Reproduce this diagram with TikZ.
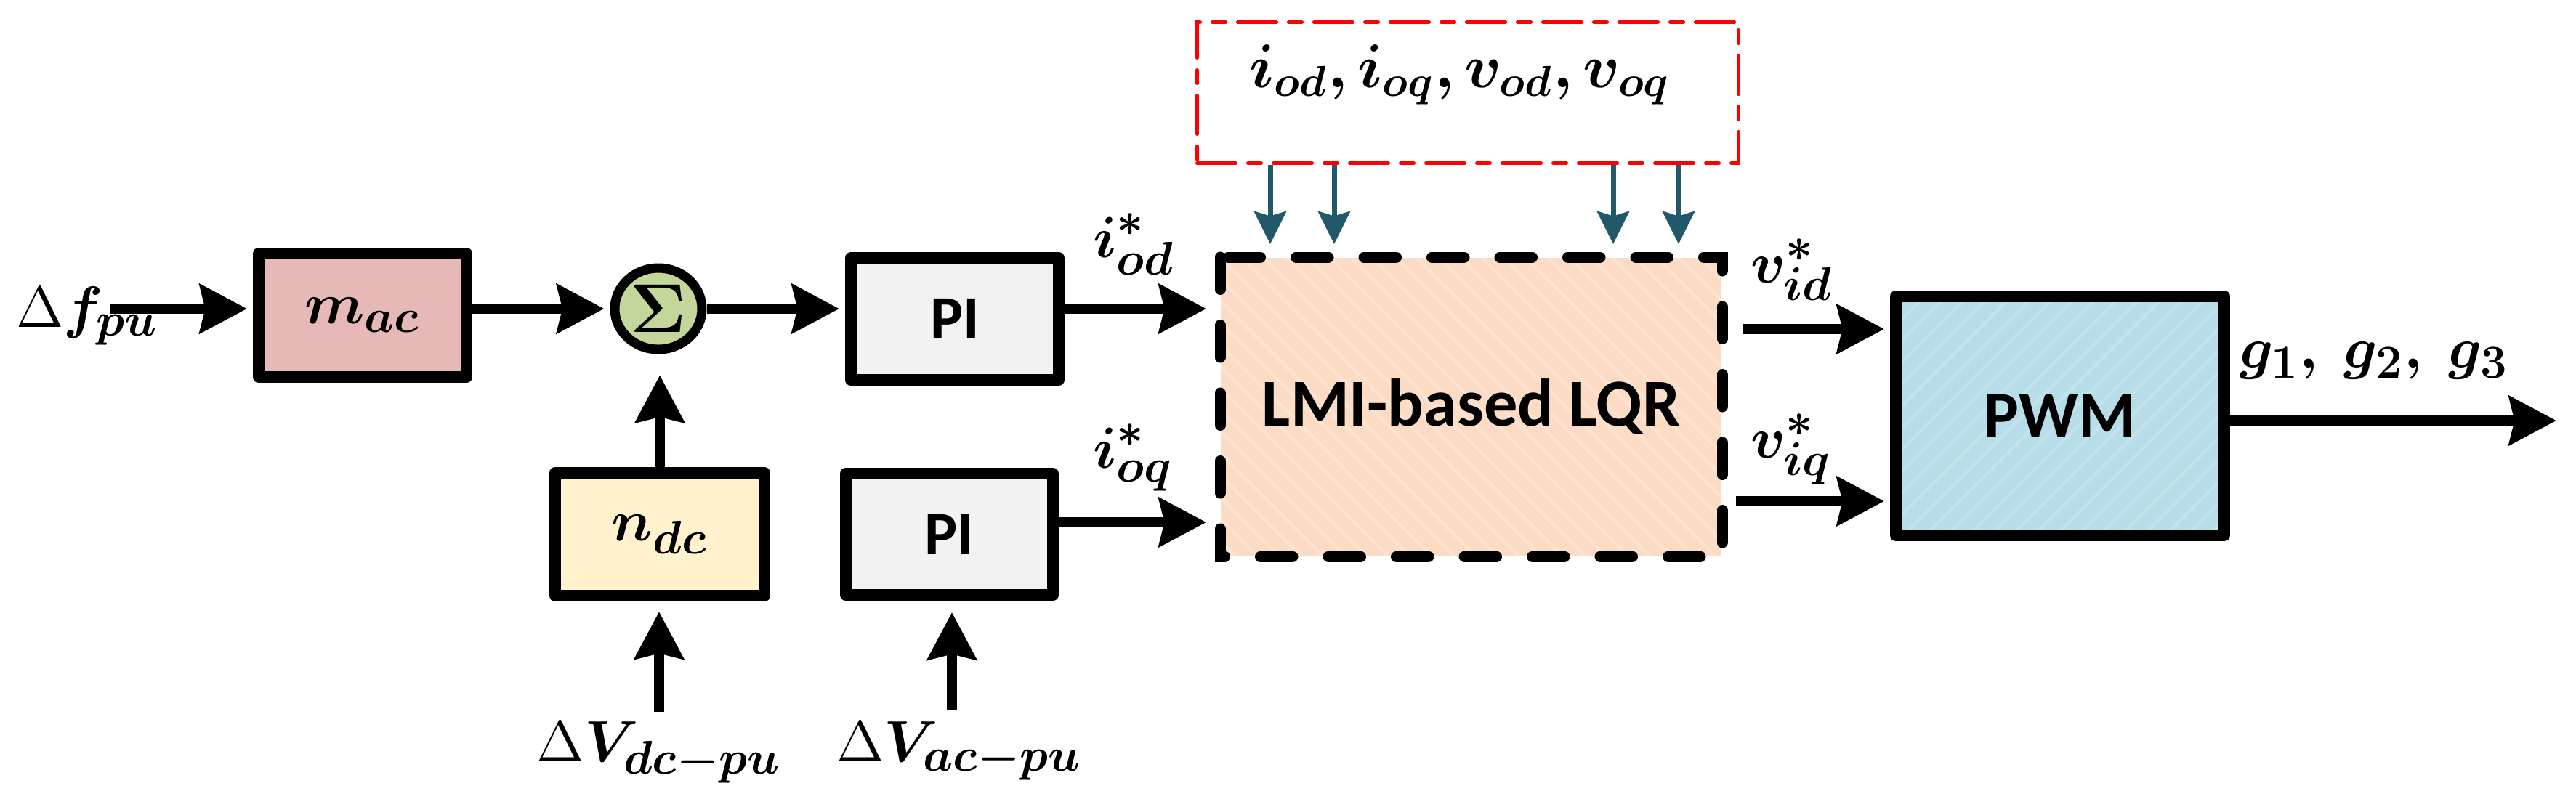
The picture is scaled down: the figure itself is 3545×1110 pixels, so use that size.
\documentclass[tikz,border=0pt]{standalone}
\usepackage{fix-cm}
\usepackage{fontspec}
\usepackage{bm}
\newfontfamily\calibf{Carlito}
\usetikzlibrary{arrows.meta,shapes.geometric}
\DeclareMathSizes{16}{16}{13}{10}
\definecolor{macc}{HTML}{E6B9B8}
\definecolor{sumc}{HTML}{C4D79B}
\definecolor{ndcc}{HTML}{FFF2CC}
\definecolor{pic}{HTML}{F2F2F2}
\definecolor{lmic}{HTML}{FBDBC4}
\definecolor{lmih}{HTML}{FCE2CF}
\definecolor{pwmc}{HTML}{B7DEE8}
\definecolor{pwmh}{HTML}{C3E3EC}
\definecolor{teal}{HTML}{215968}
\definecolor{redb}{HTML}{FF0000}
\tikzset{
  blk/.style={draw, line width=3.2pt, line join=round, inner sep=0pt},
  arr/.style={line width=2.8pt, shorten >=1.6pt, -{Stealth[length=13pt, width=13.4pt, inset=1.5pt]}},
  tarr/.style={draw=teal, line width=1.4pt, shorten >=3.6pt, -{Stealth[length=9pt, width=8.8pt, inset=1.3pt, fill=teal]}},
  mth/.style={inner sep=0pt, font=\fontsize{16}{18}\selectfont},
  sftxt/.style={font=\calibf\bfseries\fontsize{18}{20}\selectfont},
}
\begin{document}
\begin{tikzpicture}[x=0.2pt, y=-0.2pt]
\useasboundingbox (0,0) rectangle (3545,1110);
% blocks
\node[blk, fill=macc, minimum width=57.2pt, minimum height=34pt, mth] (mac) at (499,434) {$\bm{m_{ac}}$};
\node[draw, ellipse, line width=2.6pt, fill=sumc, minimum width=24pt, minimum height=22.4pt, inner sep=0pt, font=\fontsize{19}{20}\selectfont] (sum) at (906,425) {$\bm{\Sigma}$};
\node[blk, fill=ndcc, minimum width=57.6pt, minimum height=33.8pt, mth] (ndc) at (908,735.5) {$\bm{n_{dc}}$};
\node[blk, fill=pic, minimum width=57.2pt, minimum height=33.6pt, font=\calibf\bfseries\fontsize{17}{20}\selectfont] (pi1) at (1314,439) {PI};
\node[blk, fill=pic, minimum width=57pt, minimum height=33.4pt, font=\calibf\bfseries\fontsize{17}{20}\selectfont] (pi2) at (1306.5,735.5) {PI};
\node[fill=lmic, minimum width=137.8pt, minimum height=82pt, inner sep=0pt, font=\calibf\bfseries\fontsize{18.5}{20}\selectfont,
  path picture={\foreach \k in {0,...,38} \draw[lmih, line width=1pt] ([xshift=\k*6pt-84pt]path picture bounding box.north west) -- ++(90pt,-90pt);}] (lmi) at (2024.5,560) {LMI-based LQR};
\draw[line width=3pt, line cap=round, dash pattern=on 8.9pt off 9.8pt] (lmi.north west) rectangle (lmi.south east);
\node[draw=redb, line width=1pt, line cap=round, dash pattern=on 10.6pt off 3.4pt on 3.6pt off 3.4pt, minimum width=149pt, minimum height=38.8pt, inner sep=0pt] (red) at (2020,127.5) {};
\node[blk, fill=pwmc, minimum width=90.4pt, minimum height=65.8pt, sftxt,
  path picture={\foreach \k in {0,...,28} \draw[pwmh, line width=1pt] ([xshift=\k*6pt-70pt]path picture bounding box.south west) -- ++(80pt,80pt);}] (pwm) at (2835,572.5) {PWM};
% labels
\node[mth, anchor=base west] (dfpu) at (21,450) {$\Delta\bm{f_{pu}}$};
\node[mth, anchor=base] (dvdc) at (907,1048) {$\Delta\bm{V_{dc-pu}}$};
\node[mth, anchor=base] (dvac) at (1320,1048) {$\Delta\bm{V_{ac-pu}}$};
\node[mth, anchor=base west] (iod) at (1503,354) {$\bm{i^{*}_{od}}$};
\node[mth, anchor=base west] (ioq) at (1503,644) {$\bm{i^{*}_{oq}}$};
\node[mth, anchor=base west] (vid) at (2408,389) {$\bm{v^{*}_{id}}$};
\node[mth, anchor=base west] (viq) at (2408,630) {$\bm{v^{*}_{iq}}$};
\node[mth, anchor=base west] (gg) at (3081,506) {$\bm{g_{1},\;g_{2},\;g_{3}}$};
\node[mth, anchor=base west, font=\fontsize{17}{18}\selectfont] (meas) at (1718,120) {$\bm{i_{od},i_{oq},v_{od},v_{oq}}$};
% coordinates
\coordinate (fin) at (152,425);
\coordinate (vdcin) at (907,980);
\coordinate (vacin) at (1310,977);
\coordinate (qline) at (0,719);
\coordinate (vdl) at (0,453);
\coordinate (vql) at (0,690);
\coordinate (gout) at (3518,579);
\coordinate (t1) at (1748,0);
\coordinate (t2) at (1836,0);
\coordinate (t3) at (2220,0);
\coordinate (t4) at (2310,0);
% connectors
\draw[arr] (fin) -- (mac.west |- fin);
\draw[arr] (mac.east |- sum) -- (sum.west);
\draw[arr] (sum.east) -- (pi1.west |- sum);
\draw[arr, shorten >=5.8pt] (ndc.north) -- (ndc.north |- sum.south);
\draw[arr, shorten >=2.8pt] (vdcin) -- (vdcin |- ndc.south);
\draw[arr, shorten >=3.2pt] (vacin) -- (vacin |- pi2.south);
\draw[arr, shorten >=3.8pt] (pi1.east |- sum) -- (lmi.west |- sum);
\draw[arr, shorten >=3.8pt] (pi2.east |- qline) -- (lmi.west |- qline);
\draw[arr, shorten <=5.6pt] (lmi.east |- vdl) -- (pwm.west |- vdl);
\draw[arr, shorten <=3.8pt] (lmi.east |- vql) -- (pwm.west |- vql);
\draw[arr, shorten >=0pt] (pwm.east |- gout) -- (gout);
\foreach \t in {t1,t2,t3,t4} \draw[tarr] (red.south -| \t) -- (lmi.north -| \t);
\end{tikzpicture}
\end{document}
